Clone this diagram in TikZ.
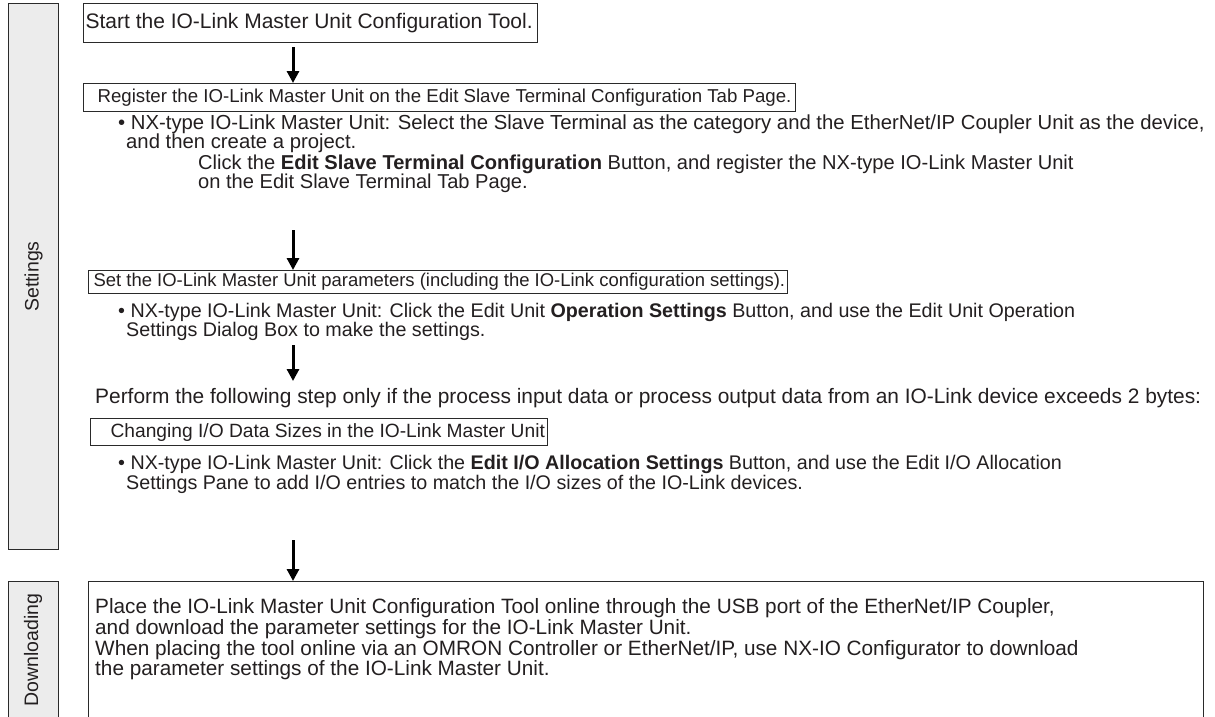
\documentclass[tikz,border=0pt]{standalone}
\usepackage{fontspec}
\setmainfont{Liberation Sans}
\usetikzlibrary{arrows.meta}
\definecolor{boxc}{HTML}{2A2A2A}
\definecolor{barc}{HTML}{ECECEC}
\definecolor{txtc}{HTML}{231F20}
\newcommand{\fsz}[1]{\fontsize{#1}{#1}\selectfont}
\begin{document}
\begin{tikzpicture}[x=1pt,y=-1pt,
  every node/.style={font=\fsz{19.5}, text=txtc},
  sidebar/.style={draw=boxc, fill=barc, line width=1.1pt, inner sep=0, minimum width=50pt, anchor=north west},
  stepbox/.style={draw=boxc, line width=1.2pt, inner sep=0, anchor=north west},
  txt/.style={inner sep=0, anchor=base west},
  arr/.style={line width=3pt, -{Triangle[width=12pt,length=12pt]}, draw=black}]
\useasboundingbox (0,0) rectangle (1215,716);
% side bars
\node[sidebar, minimum height=546pt] (setbar) at (8,3) {};
\node[rotate=90, inner sep=0] (setlbl) at (setbar.center) {Settings};
\node[sidebar, minimum height=150pt] (dlbar) at (8,581) {};
\node[rotate=90, inner sep=0] (dllbl) at (33,650) {Downloading};
% boxes
\node[stepbox, minimum height=39pt, font=\fsz{21}] (box1) at (83,3) {\makebox[454pt][l]{\hspace{2pt}Start the IO-Link Master Unit Configuration Tool.}};
\node[stepbox, minimum height=28pt, font=\fsz{18.66}] (box2) at (83,83) {\makebox[712pt][l]{\hspace{14pt}Register the IO-Link Master Unit on the Edit Slave Terminal Configuration Tab Page.}};
\node[txt, font=\fsz{20.3}] (b1a) at (118,129) {\textbullet\ NX-type IO-Link Master Unit: Select the Slave Terminal as the category and the EtherNet/IP Coupler Unit as the device,};
\node[txt, font=\fsz{20.3}] (b1b) at (126,148) {and then create a project.};
\node[txt, font=\fsz{20.1}] (c1a) at (198,169) {Click the \textbf{Edit Slave Terminal Configuration} Button, and register the NX-type IO-Link Master Unit};
\node[txt, font=\fsz{20.1}] (c1b) at (198,188) {on the Edit Slave Terminal Tab Page.};
\node[stepbox, minimum height=23pt, font=\fsz{18.46}] (box3) at (88,270) {\makebox[699pt][l]{\hspace{5pt}Set the IO-Link Master Unit parameters (including the IO-Link configuration settings).}};
\node[txt, font=\fsz{19.7}] (b2a) at (118,317) {\textbullet\ NX-type IO-Link Master Unit: Click the Edit Unit \textbf{Operation Settings} Button, and use the Edit Unit Operation};
\node[txt, font=\fsz{19.7}] (b2b) at (126,336) {Settings Dialog Box to make the settings.};
\node[txt, font=\fsz{20.9}] (perf) at (95,403) {Perform the following step only if the process input data or process output data from an IO-Link device exceeds 2 bytes:};
\node[stepbox, minimum height=27pt, font=\fsz{19.2}] (box4) at (90,418) {\makebox[457pt][l]{\hspace{20pt}Changing I/O Data Sizes in the IO-Link Master Unit}};
\node[txt, font=\fsz{19.7}] (b3a) at (118,469) {\textbullet\ NX-type IO-Link Master Unit: Click the \textbf{Edit I/O Allocation Settings} Button, and use the Edit I/O Allocation};
\node[txt, font=\fsz{19.7}] (b3b) at (126,489) {Settings Pane to add I/O entries to match the I/O sizes of the IO-Link devices.};
\node[stepbox, minimum width=1115pt, minimum height=150pt] (box5) at (88,581) {};
\node[txt, font=\fsz{20.75}] (d1) at (95,613) {Place the IO-Link Master Unit Configuration Tool online through the USB port of the EtherNet/IP Coupler,};
\node[txt, font=\fsz{20.75}] (d2) at (95,634) {and download the parameter settings for the IO-Link Master Unit.};
\node[txt, font=\fsz{20.75}] (d3) at (95,655) {When placing the tool online via an OMRON Controller or EtherNet/IP, use NX-IO Configurator to download};
\node[txt, font=\fsz{20.75}] (d4) at (95,675) {the parameter settings of the IO-Link Master Unit.};
% arrows
\coordinate (a1) at (293,47);
\coordinate (a2) at (293,230);
\coordinate (a3) at (293,345);
\coordinate (a3e) at (293,381);
\coordinate (a4) at (293,540);
\draw[arr] (a1) -- (a1 |- box2.north);
\draw[arr] (a2) -- (a2 |- box3.north);
\draw[arr] (a3) -- (a3e);
\draw[arr] (a4) -- (a4 |- box5.north);
\end{tikzpicture}
\end{document}
